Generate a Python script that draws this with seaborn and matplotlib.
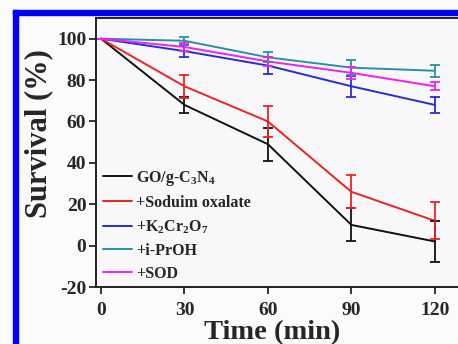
import matplotlib
matplotlib.use("Agg")
import matplotlib.pyplot as plt
from matplotlib.patches import Rectangle
import numpy as np
import pandas as pd
import seaborn as sns

# Survival data for the scavenger experiments
time_min = [0, 30, 60, 90, 120]
series_names = ["GO/g-C$_3$N$_4$", "+Soduim oxalate", "+K$_2$Cr$_2$O$_7$", "+i-PrOH", "+SOD"]
go_gcn = [100, 68, 49, 10, 2]
go_gcn_err = [0, 4, 8, 8, 10]
oxalate = [100, 77, 60, 26, 12]
oxalate_err = [0, 5.5, 7.5, 8, 9]
dichromate = [100, 94, 87, 77, 68]
dichromate_err = [0, 3, 4, 5, 4]
iproh = [100, 99, 91, 86, 84.5]
iproh_err = [0, 2, 2.5, 3.5, 3]
sod = [100, 96, 89, 83.5, 77]
sod_err = [0, 2, 2, 3, 2]
colors = ["#111111", "#ee2222", "#2a2ad6", "#2a8fa4", "#f020f0"]

values = [go_gcn, oxalate, dichromate, iproh, sod]
errors = [go_gcn_err, oxalate_err, dichromate_err, iproh_err, sod_err]

df = pd.DataFrame({
    "Time": np.tile(time_min, len(series_names)),
    "Survival": np.concatenate(values),
    "Error": np.concatenate(errors),
    "Group": np.repeat(series_names, len(time_min)),
})

sns.set_theme(style="ticks")
plt.rcParams["font.family"] = ["Liberation Serif", "DejaVu Serif"]
plt.rcParams["font.weight"] = "bold"
plt.rcParams["axes.unicode_minus"] = False
plt.rcParams["mathtext.fontset"] = "custom"
plt.rcParams["mathtext.rm"] = "Liberation Serif:bold"
plt.rcParams["mathtext.it"] = "Liberation Serif:bold"
plt.rcParams["mathtext.bf"] = "Liberation Serif:bold"

fig = plt.figure(figsize=(4.58, 3.44), dpi=100, facecolor="#fbfbfd")
W, H = 458, 344

# blue frame along the top and left edges
fig.patches.append(Rectangle((13 / W, 0), 4.5 / W, (H - 10) / H, transform=fig.transFigure,
                             color="#0000ff", zorder=0))
fig.patches.append(Rectangle((13 / W, (H - 15) / H), (W - 13) / W, 5 / H, transform=fig.transFigure,
                             color="#0000ff", zorder=0))

ax = fig.add_axes([96 / W, 57 / H, 375 / W, 269 / H])
ax.set_facecolor("#f8f8fb")

palette = dict(zip(series_names, colors))
sns.lineplot(data=df, x="Time", y="Survival", hue="Group", hue_order=series_names,
             palette=palette, linewidth=1.4, ax=ax, legend=True)

for name, col in zip(series_names, colors):
    sub = df[df["Group"] == name]
    ax.errorbar(sub["Time"], sub["Survival"], yerr=sub["Error"], fmt="none",
                ecolor=col, elinewidth=1.3, capsize=3.5, capthick=1.3)

ax.set_xlim(-1.8, 133)
ax.set_ylim(-20, 110)
ax.set_xticks(time_min)
ax.set_yticks([-20, 0, 20, 40, 60, 80, 100])
ax.tick_params(axis="both", labelsize=14, direction="out", length=5, width=1.3)
ax.tick_params(axis="x", pad=6)
ax.tick_params(axis="y", pad=2)
for lbl in ax.get_xticklabels() + ax.get_yticklabels():
    lbl.set_fontweight("bold")
ax.set_xlabel("Time (min)", fontsize=20.5, fontweight="bold")
ax.set_ylabel("Survival (%)", fontsize=22, fontweight="bold")
ax.xaxis.set_label_coords(0.469, -0.122)
ax.yaxis.set_label_coords(-0.113, 0.57)
for s in ["left", "bottom", "top"]:
    ax.spines[s].set_linewidth(1.4)
    ax.spines[s].set_color("#222222")
ax.spines["right"].set_visible(False)

leg = ax.legend(loc="lower left", bbox_to_anchor=(-0.02, -0.035), frameon=False,
                fontsize=11.5, handlelength=1.85, handletextpad=0.25, labelspacing=0.45)
for t in leg.get_texts():
    t.set_fontweight("bold")

fig.savefig("out.png", dpi=100, facecolor=fig.get_facecolor())
